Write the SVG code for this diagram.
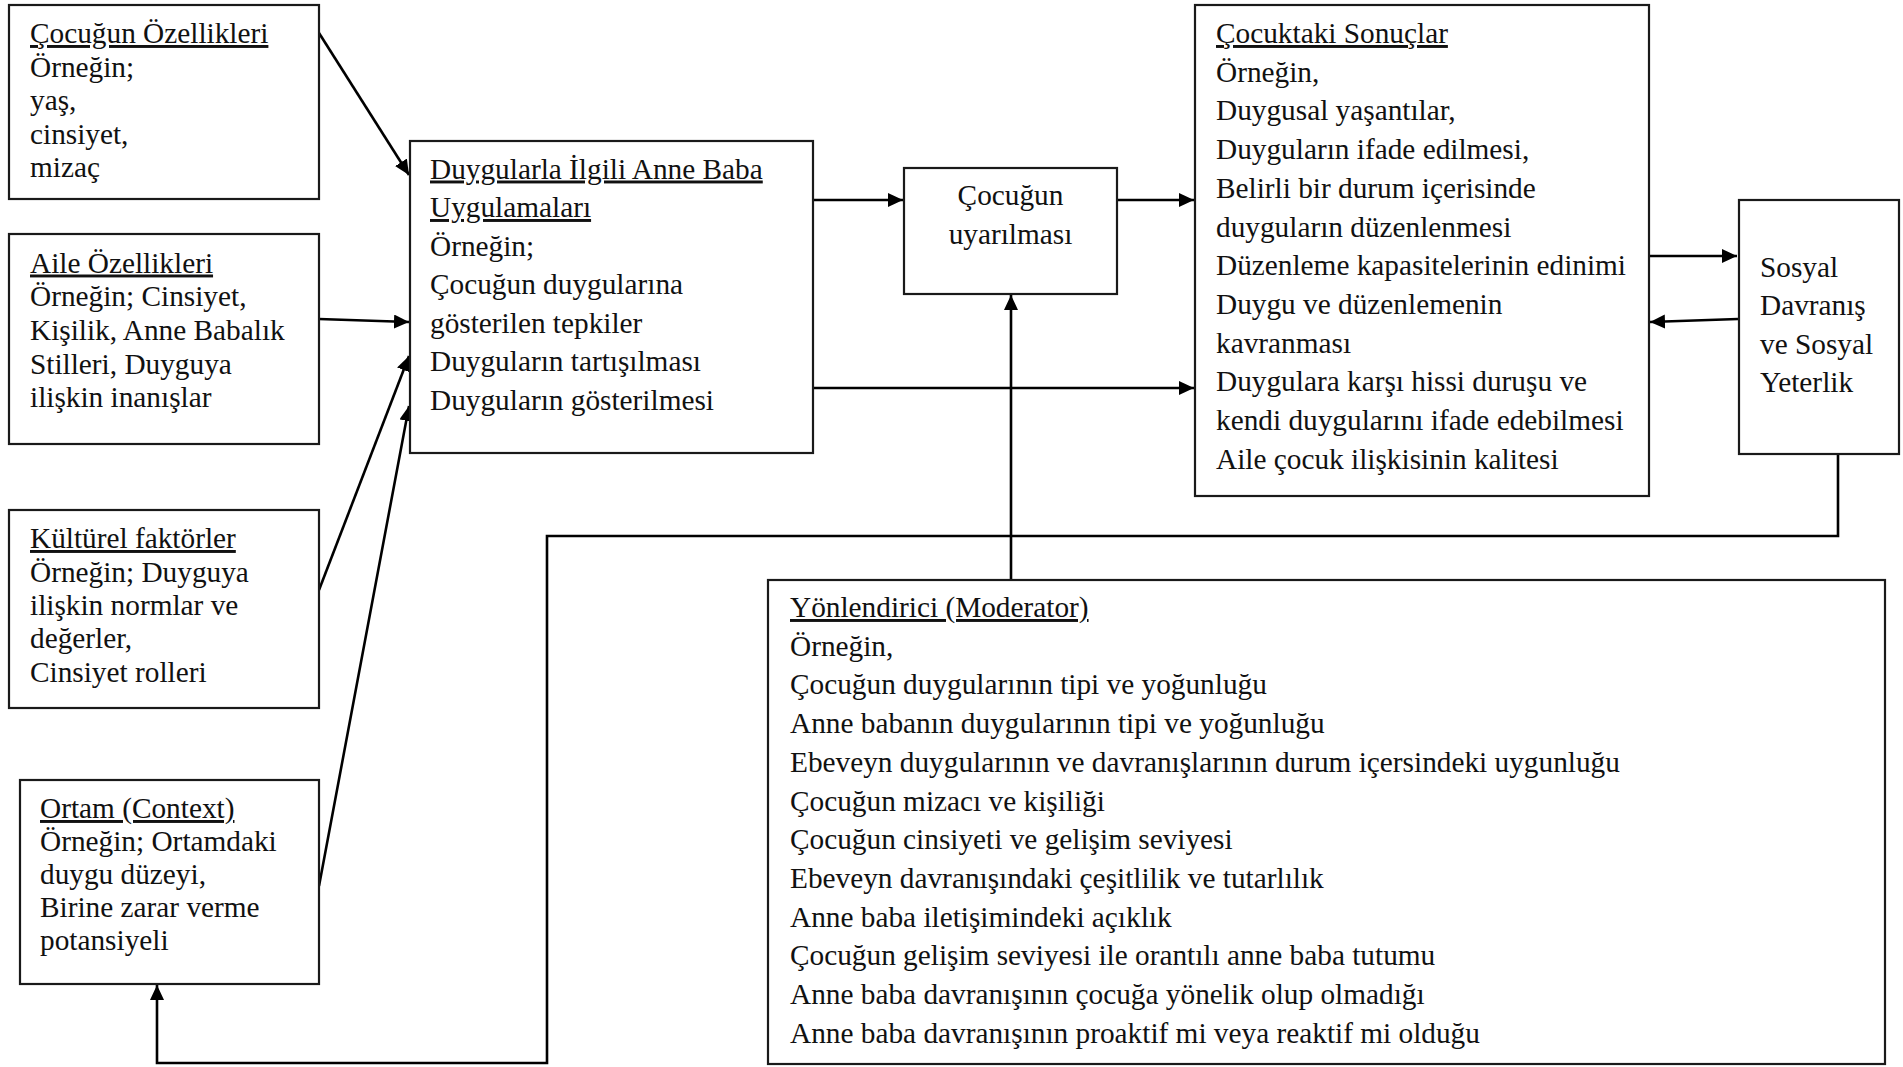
<svg xmlns="http://www.w3.org/2000/svg" width="1903" height="1067" viewBox="0 0 1903 1067">
<style>
  .box { fill: #ffffff; stroke: #1a1a1a; stroke-width: 2.2; }
  .t { font-family: "Liberation Serif", "Times New Roman", serif; font-size: 29.3px; fill: #111111; }
  .u { text-decoration: underline; }
  .c { text-anchor: middle; }
  .ln { fill: none; stroke: #000000; stroke-width: 2.6; }
</style>
<defs>
  <marker id="ah" markerUnits="userSpaceOnUse" markerWidth="16" markerHeight="14" refX="15" refY="7" orient="auto">
    <path d="M0,0 L15,7 L0,14 Z" fill="#000000"/>
  </marker>
</defs>
<rect x="0" y="0" width="1903" height="1067" fill="#ffffff"/>

<g id="connectors">
  <line class="ln" x1="319" y1="33" x2="409" y2="175" marker-end="url(#ah)"/>
  <line class="ln" x1="319" y1="319" x2="409" y2="322" marker-end="url(#ah)"/>
  <line class="ln" x1="319" y1="590" x2="409" y2="356" marker-end="url(#ah)"/>
  <line class="ln" x1="319" y1="886" x2="409" y2="406" marker-end="url(#ah)"/>
  <line class="ln" x1="813" y1="200" x2="903" y2="200" marker-end="url(#ah)"/>
  <line class="ln" x1="1117" y1="200" x2="1194" y2="200" marker-end="url(#ah)"/>
  <line class="ln" x1="813" y1="388" x2="1194" y2="388" marker-end="url(#ah)"/>
  <line class="ln" x1="1011" y1="580" x2="1011" y2="295" marker-end="url(#ah)"/>
  <line class="ln" x1="1649" y1="256" x2="1737" y2="256" marker-end="url(#ah)"/>
  <line class="ln" x1="1738" y1="319" x2="1650" y2="322" marker-end="url(#ah)"/>
  <polyline class="ln" points="1838,454 1838,536 547,536 547,1063 157,1063 157,985" marker-end="url(#ah)"/>
</g>

<g id="n-cocugun-ozellikleri">
  <rect class="box" x="9" y="5" width="310" height="194"/>
  <text class="t u" x="30" y="43">Çocuğun Özellikleri</text>
  <text class="t" x="30" y="76.5">Örneğin;</text>
  <text class="t" x="30" y="110">yaş,</text>
  <text class="t" x="30" y="143.5">cinsiyet,</text>
  <text class="t" x="30" y="177">mizaç</text>
</g>

<g id="n-aile-ozellikleri">
  <rect class="box" x="9" y="234" width="310" height="210"/>
  <text class="t u" x="30" y="272.5">Aile Özellikleri</text>
  <text class="t" x="30" y="306">Örneğin; Cinsiyet,</text>
  <text class="t" x="30" y="340">Kişilik, Anne Babalık</text>
  <text class="t" x="30" y="373.5">Stilleri, Duyguya</text>
  <text class="t" x="30" y="407">ilişkin inanışlar</text>
</g>

<g id="n-kulturel">
  <rect class="box" x="9" y="510" width="310" height="198"/>
  <text class="t u" x="30" y="548">Kültürel faktörler</text>
  <text class="t" x="30" y="581.5">Örneğin; Duyguya</text>
  <text class="t" x="30" y="615">ilişkin normlar ve</text>
  <text class="t" x="30" y="648">değerler,</text>
  <text class="t" x="30" y="682">Cinsiyet rolleri</text>
</g>

<g id="n-ortam">
  <rect class="box" x="20" y="780" width="299" height="204"/>
  <text class="t u" x="40" y="818">Ortam (Context)</text>
  <text class="t" x="40" y="851">Örneğin; Ortamdaki</text>
  <text class="t" x="40" y="884">duygu düzeyi,</text>
  <text class="t" x="40" y="917">Birine zarar verme</text>
  <text class="t" x="40" y="950">potansiyeli</text>
</g>

<g id="n-anne-baba-uygulamalari">
  <rect class="box" x="410" y="141" width="403" height="312"/>
  <text class="t u" x="430" y="178.5">Duygularla İlgili Anne Baba</text>
  <text class="t u" x="430" y="217">Uygulamaları</text>
  <text class="t" x="430" y="255.5">Örneğin;</text>
  <text class="t" x="430" y="294">Çocuğun duygularına</text>
  <text class="t" x="430" y="332.5">gösterilen tepkiler</text>
  <text class="t" x="430" y="371">Duyguların tartışılması</text>
  <text class="t" x="430" y="409.5">Duyguların gösterilmesi</text>
</g>

<g id="n-uyarilmasi">
  <rect class="box" x="904" y="168" width="213" height="126"/>
  <text class="t c" x="1010.5" y="205">Çocuğun</text>
  <text class="t c" x="1010.5" y="243.5">uyarılması</text>
</g>

<g id="n-cocuktaki-sonuclar">
  <rect class="box" x="1195" y="5" width="454" height="491"/>
  <text class="t u" x="1216" y="43">Çocuktaki Sonuçlar</text>
  <text class="t" x="1216" y="81.7">Örneğin,</text>
  <text class="t" x="1216" y="120.4">Duygusal yaşantılar,</text>
  <text class="t" x="1216" y="159.1">Duyguların ifade edilmesi,</text>
  <text class="t" x="1216" y="197.8">Belirli bir durum içerisinde</text>
  <text class="t" x="1216" y="236.5">duyguların düzenlenmesi</text>
  <text class="t" x="1216" y="275.2">Düzenleme kapasitelerinin edinimi</text>
  <text class="t" x="1216" y="313.9">Duygu ve düzenlemenin</text>
  <text class="t" x="1216" y="352.6">kavranması</text>
  <text class="t" x="1216" y="391.3">Duygulara karşı hissi duruşu ve</text>
  <text class="t" x="1216" y="430">kendi duygularını ifade edebilmesi</text>
  <text class="t" x="1216" y="468.7">Aile çocuk ilişkisinin kalitesi</text>
</g>

<g id="n-sosyal">
  <rect class="box" x="1739" y="200" width="160" height="254"/>
  <text class="t" x="1760" y="277">Sosyal</text>
  <text class="t" x="1760" y="315.3">Davranış</text>
  <text class="t" x="1760" y="353.6">ve Sosyal</text>
  <text class="t" x="1760" y="392">Yeterlik</text>
</g>

<g id="n-moderator">
  <rect class="box" x="768" y="580" width="1117" height="484"/>
  <text class="t u" x="790" y="617">Yönlendirici (Moderator)</text>
  <text class="t" x="790" y="655.7">Örneğin,</text>
  <text class="t" x="790" y="694.4">Çocuğun duygularının tipi ve yoğunluğu</text>
  <text class="t" x="790" y="733.1">Anne babanın duygularının tipi ve yoğunluğu</text>
  <text class="t" x="790" y="771.8">Ebeveyn duygularının ve davranışlarının durum içersindeki uygunluğu</text>
  <text class="t" x="790" y="810.5">Çocuğun mizacı ve kişiliği</text>
  <text class="t" x="790" y="849.2">Çocuğun cinsiyeti ve gelişim seviyesi</text>
  <text class="t" x="790" y="887.9">Ebeveyn davranışındaki çeşitlilik ve tutarlılık</text>
  <text class="t" x="790" y="926.6">Anne baba iletişimindeki açıklık</text>
  <text class="t" x="790" y="965.3">Çocuğun gelişim seviyesi ile orantılı anne baba tutumu</text>
  <text class="t" x="790" y="1004">Anne baba davranışının çocuğa yönelik olup olmadığı</text>
  <text class="t" x="790" y="1042.7">Anne baba davranışının proaktif mi veya reaktif mi olduğu</text>
</g>
</svg>
